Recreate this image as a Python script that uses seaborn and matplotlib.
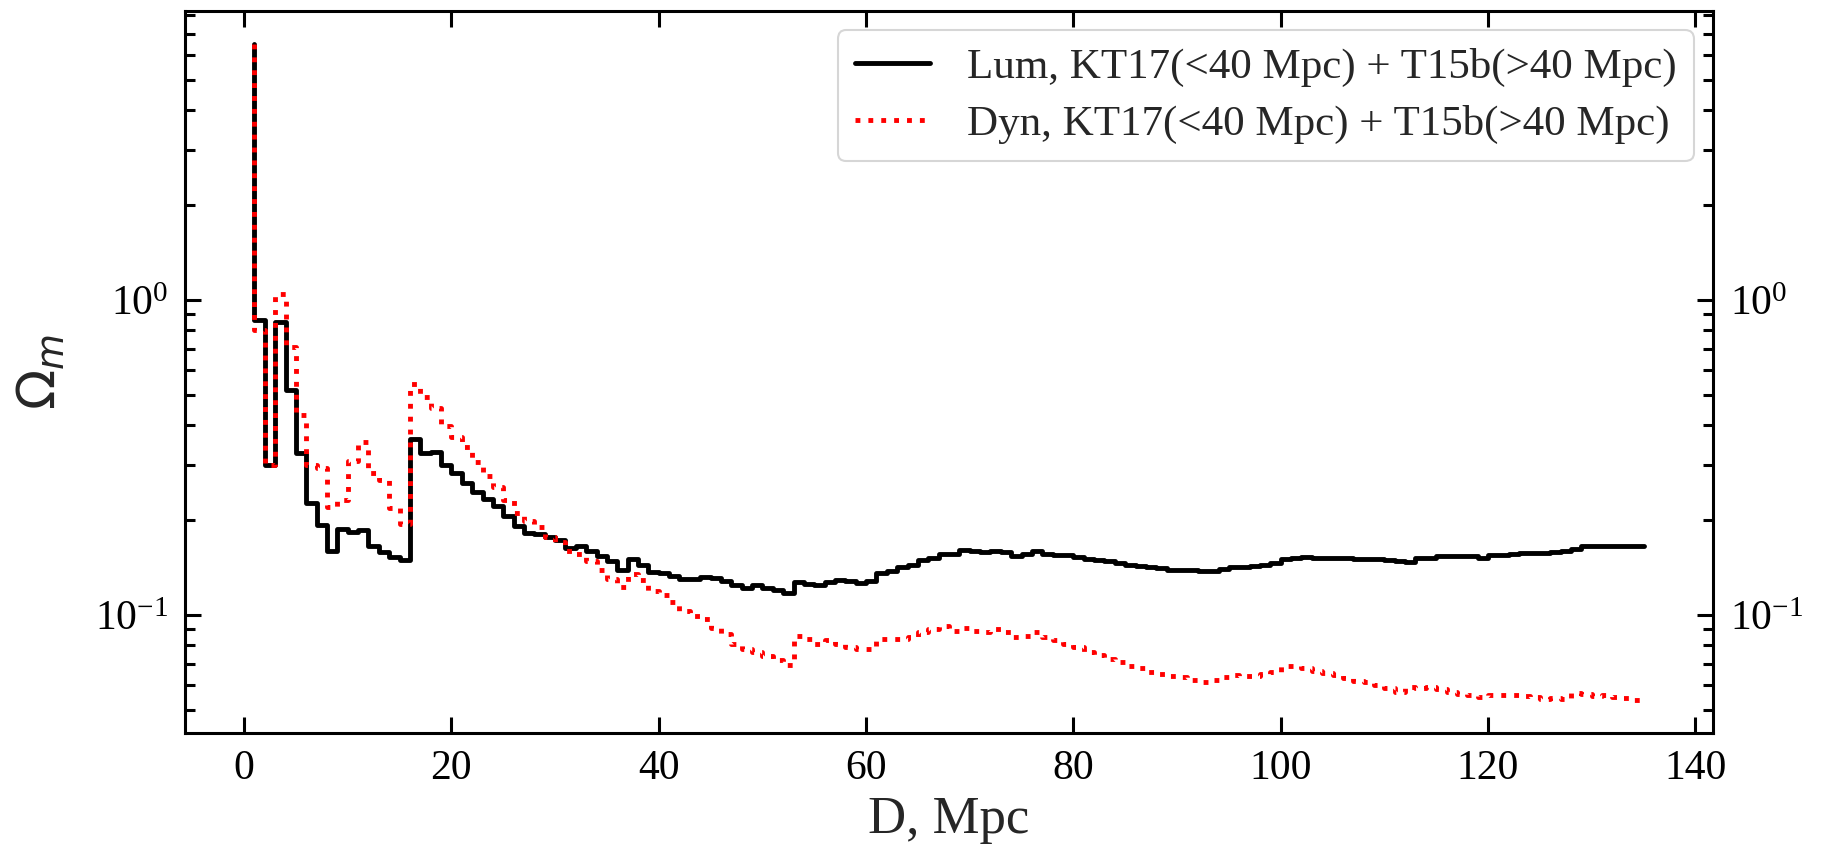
import numpy as np
import pandas as pd
import matplotlib
matplotlib.use("Agg")
import matplotlib.pyplot as plt
import seaborn as sns

# ---- data ----
distance = list(range(1, 136))

lum_omega = [
    6.5, 0.865, 0.30, 0.853, 0.518, 0.326, 0.227, 0.193, 0.159, 0.188,
    0.183, 0.186, 0.165, 0.158, 0.153, 0.149, 0.361, 0.326, 0.330, 0.300,
    0.282, 0.262, 0.246, 0.233, 0.222, 0.206, 0.191, 0.182, 0.180, 0.177,
    0.173, 0.163, 0.166, 0.159, 0.154, 0.148, 0.139, 0.150, 0.144, 0.137,
    0.136, 0.133, 0.130, 0.130, 0.132, 0.131, 0.128, 0.124, 0.122, 0.124,
    0.122, 0.120, 0.117, 0.127, 0.125, 0.124, 0.127, 0.129, 0.128, 0.126,
    0.128, 0.136, 0.138, 0.142, 0.144, 0.149, 0.151, 0.156, 0.156, 0.161,
    0.159, 0.158, 0.160, 0.158, 0.154, 0.156, 0.159, 0.156, 0.155, 0.155,
    0.153, 0.150, 0.149, 0.148, 0.146, 0.144, 0.143, 0.142, 0.141, 0.139,
    0.139, 0.139, 0.138, 0.138, 0.140, 0.142, 0.142, 0.143, 0.144, 0.146,
    0.150, 0.152, 0.153, 0.152, 0.152, 0.152, 0.152, 0.150, 0.150, 0.150,
    0.149, 0.148, 0.147, 0.151, 0.152, 0.154, 0.154, 0.154, 0.154, 0.152,
    0.155, 0.155, 0.156, 0.157, 0.157, 0.157, 0.158, 0.160, 0.162, 0.165,
    0.165, 0.165, 0.165, 0.166, 0.166,
]

dyn_omega = [
    6.5, 0.80, 0.30, 1.04, 0.71, 0.43, 0.30, 0.292, 0.22, 0.232,
    0.307, 0.355, 0.283, 0.268, 0.218, 0.195, 0.54, 0.493, 0.453, 0.398,
    0.368, 0.342, 0.305, 0.275, 0.255, 0.232, 0.210, 0.198, 0.190, 0.177,
    0.170, 0.159, 0.156, 0.148, 0.139, 0.130, 0.123, 0.135, 0.129, 0.119,
    0.116, 0.110, 0.103, 0.099, 0.097, 0.091, 0.087, 0.081, 0.078, 0.076,
    0.074, 0.072, 0.0695, 0.086, 0.084, 0.081, 0.083, 0.081, 0.079, 0.078,
    0.078, 0.084, 0.084, 0.084, 0.085, 0.088, 0.090, 0.092, 0.089, 0.091,
    0.089, 0.088, 0.090, 0.088, 0.085, 0.086, 0.088, 0.085, 0.083, 0.081,
    0.079, 0.0765, 0.0745, 0.0725, 0.071, 0.069, 0.068, 0.066, 0.065, 0.064,
    0.0635, 0.062, 0.0614, 0.062, 0.0635, 0.0645, 0.064, 0.064, 0.065, 0.066,
    0.069, 0.069, 0.068, 0.0665, 0.0655, 0.0645, 0.063, 0.0617, 0.061, 0.060,
    0.0585, 0.0571, 0.059, 0.0585, 0.059, 0.058, 0.0571, 0.056, 0.0557, 0.055,
    0.0557, 0.0557, 0.0557, 0.0553, 0.055, 0.054, 0.0545, 0.054, 0.0566, 0.056,
    0.0553, 0.0557, 0.055, 0.0545, 0.0538,
]

series_labels = [
    "Lum, KT17(<40 Mpc) + T15b(>40 Mpc)",
    "Dyn, KT17(<40 Mpc) + T15b(>40 Mpc)",
]
x_ticks = [0, 20, 40, 60, 80, 100, 120, 140]

# ---- style ----
sns.set_style("ticks")
plt.rcParams["font.family"] = ["Liberation Serif", "DejaVu Serif"]
plt.rcParams["mathtext.fontset"] = "dejavusans"
FS = 30
LEG_FS = 31

df = pd.concat([
    pd.DataFrame({"D": distance, "Omega": lum_omega, "series": series_labels[0]}),
    pd.DataFrame({"D": distance, "Omega": dyn_omega, "series": series_labels[1]}),
])

fig = plt.figure(figsize=(18.31, 8.59), dpi=100)
ax = fig.add_axes([185 / 1831, 1 - 733 / 859, (1713 - 185) / 1831, (733 - 11) / 859])

sns.lineplot(data=df[df.series == series_labels[0]], x="D", y="Omega", ax=ax,
             color="black", lw=3.5, drawstyle="steps-pre", label=series_labels[0],
             estimator=None, sort=False)
sns.lineplot(data=df[df.series == series_labels[1]], x="D", y="Omega", ax=ax,
             color="red", lw=3.5, ls=":", drawstyle="steps-pre", label=series_labels[1],
             estimator=None, sort=False)

ax.set_yscale("log")
ax.set_xlim(-5.7, 141.7)
ax.set_ylim(10 ** -1.375, 10 ** 0.917)
ax.set_xticks(x_ticks)

ax.set_xlabel("D, Mpc", fontsize=38, labelpad=6)
ax.set_ylabel(r"$\Omega_m$", fontsize=38, labelpad=20)

ax.tick_params(which="both", direction="in", top=True, right=True,
               labelright=True, labelsize=FS, width=2.2, colors="black")
ax.tick_params(which="major", length=11.5, pad=12)
ax.tick_params(which="minor", length=7.5)
ax.tick_params(axis="x", which="minor", bottom=False, top=False)
for sp in ax.spines.values():
    sp.set_linewidth(2.2)
    sp.set_color("black")

leg = ax.legend(loc="upper right", fontsize=LEG_FS, frameon=True, fancybox=True,
                framealpha=0.8, edgecolor="#cccccc", labelspacing=0.42,
                handlelength=1.75, handletextpad=0.85, borderaxespad=0.45)
leg.get_frame().set_linewidth(1.5)

fig.savefig("out.png", dpi=100)
